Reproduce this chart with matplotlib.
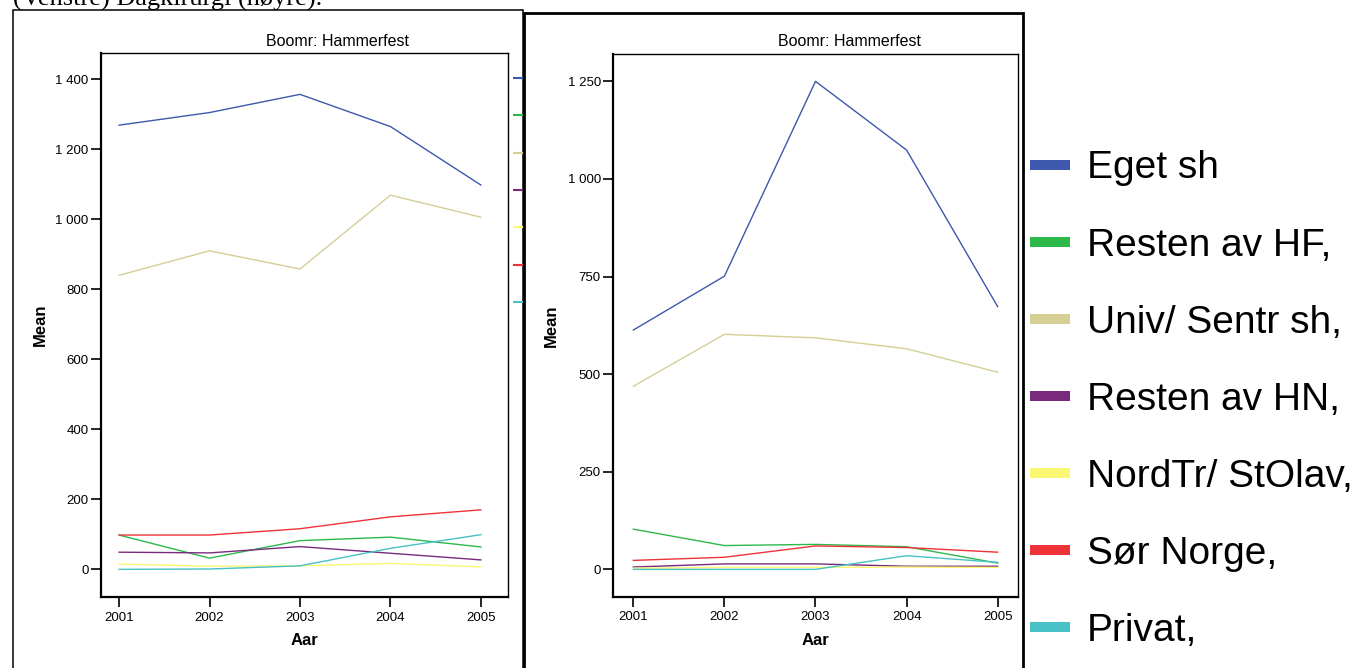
import matplotlib
matplotlib.use("Agg")
import matplotlib.pyplot as plt
from matplotlib.lines import Line2D
from matplotlib.patches import Rectangle

plt.rcParams['font.family'] = ['Liberation Sans', 'DejaVu Sans']

W, H = 1365, 668

years = [2001, 2002, 2003, 2004, 2005]
labels = ["Eget sh", "Resten av HF,", "Univ/ Sentr sh,", "Resten av HN,",
          "NordTr/ StOlav,", "Sør Norge,", "Privat,"]
colors = ["#3D58AC", "#2DB84A", "#D5CF96", "#7A2A7C", "#FAF772", "#EE3238", "#47C0C6"]

# venstre panel
left_eget = [1269, 1305, 1357, 1265, 1098]
left_hf = [98, 32, 82, 92, 64]
left_univ = [840, 910, 858, 1069, 1006]
left_hn = [49, 47, 65, 46, 27]
left_nordtr = [15, 9, 10, 17, 7]
left_sor = [98, 98, 116, 150, 170]
left_privat = [0, 1, 10, 60, 99]

# høyre panel
right_eget = [613, 751, 1250, 1074, 673]
right_hf = [103, 61, 64, 58, 16]
right_univ = [469, 602, 593, 565, 505]
right_hn = [6, 14, 14, 8, 8]
right_nordtr = [3, 5, 5, 6, 5]
right_sor = [23, 31, 60, 56, 44]
right_privat = [0, 0, 0, 35, 18]

left_yticks = [0, 200, 400, 600, 800, 1000, 1200, 1400]
left_yticklabels = ["0", "200", "400", "600", "800", "1 000", "1 200", "1 400"]
right_yticks = [0, 250, 500, 750, 1000, 1250]
right_yticklabels = ["0", "250", "500", "750", "1 000", "1 250"]

title = "Boomr: Hammerfest"
caption = "(Venstre) Dagkirurgi (høyre)."

left_series = [left_eget, left_hf, left_univ, left_hn, left_nordtr, left_sor, left_privat]
right_series = [right_eget, right_hf, right_univ, right_hn, right_nordtr, right_sor, right_privat]


def fx(px):
    return px / W


def fy(py):
    return 1 - py / H


fig = plt.figure(figsize=(W / 100, H / 100), dpi=100)

# bakgrunnsrammer
fig.add_artist(Rectangle((fx(12.7), -0.05), fx(523 - 12.7), fy(10) + 0.05,
                         transform=fig.transFigure, fill=False, ec="black", lw=1.1, zorder=-1))

ax1 = fig.add_axes([fx(101), fy(597), fx(508 - 101), (597 - 52.7) / H])
ax1.set_zorder(0)

fig.add_artist(Rectangle((fx(524), -0.05), fx(1023 - 524), fy(12.7) + 0.05,
                         transform=fig.transFigure, fc="white", ec="black", lw=2.0, zorder=0.5))

ax2 = fig.add_axes([fx(613.3), fy(596.7), fx(1017.7 - 613.3), (596.7 - 54) / H])
ax2.set_zorder(1)


def style(ax, series, yticks, yticklabels, ylim, xlim, title_x, ylabelpad):
    for vals, c in zip(series, colors):
        ax.plot(years, vals, color=c, lw=1.0)
    ax.set_xlim(*xlim)
    ax.set_ylim(*ylim)
    ax.set_xticks(years)
    ax.set_xticklabels([str(y) for y in years])
    ax.set_yticks(yticks)
    ax.set_yticklabels(yticklabels)
    ax.tick_params(axis="both", direction="out", length=7.5, width=1.2,
                   labelsize=9.5, colors="black")
    ax.tick_params(axis="y", pad=1.5)
    ax.tick_params(axis="x", pad=3)
    ax.spines["left"].set_linewidth(1.6)
    ax.spines["bottom"].set_linewidth(1.6)
    ax.spines["top"].set_linewidth(1.0)
    ax.spines["right"].set_linewidth(1.0)
    ax.set_xlabel("Aar", fontsize=12, fontweight="bold", labelpad=7)
    ax.set_ylabel("Mean", fontsize=12, fontweight="bold", labelpad=ylabelpad)
    fig.text(title_x, fy(45.7), title, fontsize=11.5, ha="center", va="baseline")


style(ax1, left_series, left_yticks, left_yticklabels, (-79, 1476), (2000.80, 2005.30), fx(338), 5.5)
style(ax2, right_series, right_yticks, right_yticklabels, (-70, 1320), (2000.78, 2005.22), fx(849), 6.5)

# venstre legende, bare strekene synes (resten dekkes av høyre panel)
h1 = [Line2D([], [], color=c, lw=1.5, solid_capstyle="butt") for c in colors]
ax1.legend(h1, [""] * len(h1), loc="upper left", bbox_to_anchor=(fx(513), fy(72)),
           bbox_transform=fig.transFigure, frameon=False, borderpad=0, borderaxespad=0,
           fontsize=10, labelspacing=1.68, handlelength=2.0, handletextpad=0.5)

# høyre legende
h2 = [Line2D([], [], color=c, lw=7.2, solid_capstyle="butt") for c in colors]
fig.legend(h2, labels, loc="upper left", bbox_to_anchor=(fx(1030), fy(150.5)),
           frameon=False, borderpad=0, borderaxespad=0, fontsize=28,
           labelspacing=1.055, handlelength=1.03, handletextpad=0.44)

fig.text(fx(13), fy(6), caption, fontsize=19, family="Liberation Serif",
         ha="left", va="baseline")

fig.savefig("out.png", dpi=100)
